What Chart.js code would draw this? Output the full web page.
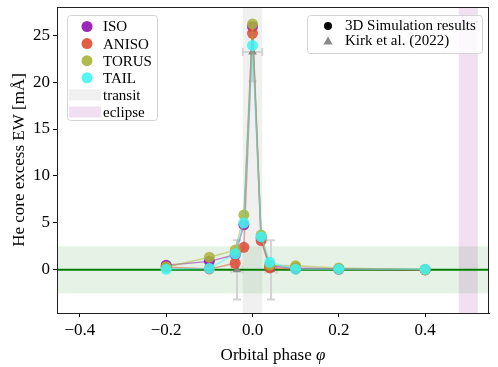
<!DOCTYPE html>
<html lang="en">
<head>
<meta charset="UTF-8" />
<title>He core excess EW vs orbital phase</title>
<script src="https://cdn.jsdelivr.net/npm/chart.js"></script>
<style>
  body { margin: 0; background: #fff; }
  canvas { display: block; }
</style>
</head>
<body>
<canvas id="ewChart" width="498" height="367"></canvas>
<script>
  // simulation results (orbital phase vs EW in mÅ)
  const phases = [-0.2, -0.1, -0.04, -0.02, 0, 0.02, 0.04, 0.1, 0.2, 0.4];
  const isoEW   = [0.5, 0.9, 1.6, 4.8, 25.9, 3.4, 0.4, 0.2, 0.1, 0.0];
  const anisoEW = [0.3, 0.1, 0.7, 2.4, 25.2, 3.1, 0.2, 0.1, 0.05, 0.0];
  const torusEW = [0.3, 1.35, 2.1, 5.85, 26.2, 3.7, 0.5, 0.43, 0.2, 0.0];
  const tailEW  = [0.05, 0.15, 1.7, 5.0, 23.9, 3.5, 0.8, 0.07, 0.07, 0.05];

  // Kirk et al. (2022) observations
  const kirkPhase = [-0.036, 0, 0.043];
  const kirkPhaseErr = [0.013, 0.0225, 0.013];
  const kirkEW = [0, 23.2, 0];
  const kirkEWErr = [3.15, 3.1, 3.15];

  // shaded ranges
  const transitRange = [-0.0225, 0.0225];
  const eclipseRange = [0.478, 0.522];
  const noiseBand = [-2.5, 2.5];

  const xTicks = [-0.4, -0.2, 0.0, 0.2, 0.4];
  const yTicks = [0, 5, 10, 15, 20, 25];

  const FONT = "'Liberation Serif', 'Times New Roman', serif";

  const series = [
    { label: 'ISO',   values: isoEW,   color: '145,17,179' },
    { label: 'ANISO', values: anisoEW, color: '223,74,50' },
    { label: 'TORUS', values: torusEW, color: '168,180,56' },
    { label: 'TAIL',  values: tailEW,  color: '64,245,245' }
  ];

  const datasets = series.map((s, i) => ({
    label: s.label,
    data: phases.map((p, j) => ({ x: p, y: s.values[j] })),
    showLine: true,
    borderColor: `rgba(${s.color},0.5)`,
    borderWidth: 1.5,
    backgroundColor: `rgba(${s.color},0.85)`,
    pointBorderWidth: 0,
    pointRadius: 5.5,
    order: series.length - i
  }));

  datasets.push({
    label: 'Kirk et al. (2022)',
    data: kirkPhase.map((p, j) => ({ x: p, y: kirkEW[j] })),
    pointStyle: 'triangle',
    pointRadius: 5,
    backgroundColor: '#888',
    borderWidth: 0,
    order: 10
  });

  // bands, reference line and error bars behind the points
  const backdrop = {
    id: 'backdrop',
    beforeDatasetsDraw(chart) {
      const { ctx, chartArea: a, scales: { x, y } } = chart;
      ctx.save();
      ctx.beginPath();
      ctx.rect(a.left, a.top, a.right - a.left, a.bottom - a.top);
      ctx.clip();

      ctx.fillStyle = 'rgba(0,128,0,0.1)';
      const yb1 = y.getPixelForValue(noiseBand[1]), yb0 = y.getPixelForValue(noiseBand[0]);
      ctx.fillRect(a.left, yb1, a.right - a.left, yb0 - yb1);

      ctx.fillStyle = 'rgba(128,128,128,0.12)';
      let x0 = x.getPixelForValue(transitRange[0]), x1 = x.getPixelForValue(transitRange[1]);
      ctx.fillRect(x0, a.top, x1 - x0, a.bottom - a.top);

      ctx.fillStyle = 'rgba(128,0,128,0.12)';
      x0 = x.getPixelForValue(eclipseRange[0]); x1 = x.getPixelForValue(eclipseRange[1]);
      ctx.fillRect(x0, a.top, x1 - x0, a.bottom - a.top);

      // Kirk error bars
      ctx.strokeStyle = '#d3d3d3';
      ctx.lineWidth = 2;
      kirkPhase.forEach((p, i) => {
        const px = x.getPixelForValue(p), py = y.getPixelForValue(kirkEW[i]);
        const top = y.getPixelForValue(kirkEW[i] + kirkEWErr[i]);
        const bot = y.getPixelForValue(kirkEW[i] - kirkEWErr[i]);
        const l = x.getPixelForValue(p - kirkPhaseErr[i]), r = x.getPixelForValue(p + kirkPhaseErr[i]);
        ctx.beginPath();
        ctx.moveTo(px, top); ctx.lineTo(px, bot);
        ctx.moveTo(px - 4, top); ctx.lineTo(px + 4, top);
        ctx.moveTo(px - 4, bot); ctx.lineTo(px + 4, bot);
        ctx.moveTo(l, py); ctx.lineTo(r, py);
        ctx.moveTo(l, py - 4); ctx.lineTo(l, py + 4);
        ctx.moveTo(r, py - 4); ctx.lineTo(r, py + 4);
        ctx.stroke();
      });

      ctx.strokeStyle = '#008000';
      ctx.lineWidth = 2;
      const y0 = y.getPixelForValue(0);
      ctx.beginPath();
      ctx.moveTo(a.left, y0); ctx.lineTo(a.right, y0);
      ctx.stroke();
      ctx.restore();
    },
    afterDraw(chart) {
      const { ctx, chartArea: a } = chart;
      ctx.save();
      // frame
      ctx.strokeStyle = '#222';
      ctx.lineWidth = 1;
      ctx.strokeRect(a.left + 0.5, a.top + 0.5, a.right - a.left - 1, a.bottom - a.top);

      // x title with italic phi
      ctx.fillStyle = '#000';
      ctx.textBaseline = 'alphabetic';
      const main = 'Orbital phase ';
      ctx.font = `italic 17px ${FONT}`;
      const phiW = ctx.measureText('φ').width;
      ctx.font = `17px ${FONT}`;
      const mainW = ctx.measureText(main).width;
      const cx = (a.left + a.right) / 2;
      const sx = cx - (mainW + phiW) / 2;
      ctx.fillText(main, sx, 360);
      ctx.font = `italic 17px ${FONT}`;
      ctx.fillText('φ', sx + mainW, 360);

      // left legend
      const box = (bx, by, bw, bh) => {
        ctx.beginPath();
        ctx.roundRect(bx + 0.5, by + 0.5, bw, bh, 3);
        ctx.fillStyle = 'rgba(255,255,255,0.8)';
        ctx.fill();
        ctx.strokeStyle = '#d4d4d4';
        ctx.lineWidth = 1;
        ctx.stroke();
      };
      box(a.left + 10, a.top + 8, 90, 105);
      ctx.font = `15px ${FONT}`;
      ctx.textBaseline = 'middle';
      const rowY = i => a.top + 19.5 + i * 17.1;
      series.forEach((s, i) => {
        ctx.fillStyle = `rgba(${s.color},0.9)`;
        ctx.beginPath();
        ctx.arc(a.left + 30, rowY(i), 5.5, 0, Math.PI * 2);
        ctx.fill();
        ctx.fillStyle = '#000';
        ctx.fillText(s.label, a.left + 46, rowY(i) + 1);
      });
      const patches = [['transit', 'rgba(128,128,128,0.12)'], ['eclipse', 'rgba(128,0,128,0.12)']];
      patches.forEach(([name, col], k) => {
        const ry = rowY(4 + k);
        ctx.fillStyle = col;
        ctx.fillRect(a.left + 12, ry - 5.5, 32, 11);
        ctx.fillStyle = '#000';
        ctx.fillText(name, a.left + 46, ry + 1);
      });

      // right legend
      box(a.left + 250, a.top + 8, 175, 38);
      const mx = a.left + 271;
      ctx.fillStyle = '#000';
      ctx.beginPath();
      ctx.arc(mx, a.top + 19, 4, 0, Math.PI * 2);
      ctx.fill();
      ctx.fillText('3D Simulation results', a.left + 288, a.top + 19.5);
      ctx.fillStyle = '#888';
      ctx.beginPath();
      const ty = a.top + 34;
      ctx.moveTo(mx, ty - 4.5); ctx.lineTo(mx + 4.5, ty + 3.5); ctx.lineTo(mx - 4.5, ty + 3.5);
      ctx.closePath();
      ctx.fill();
      ctx.fillStyle = '#000';
      ctx.fillText('Kirk et al. (2022)', a.left + 288, ty + 0.5);
      ctx.restore();
    }
  };

  const fmt = v => (v < 0 ? '\u2212' : '') + Math.abs(v).toFixed(1);

  new Chart(document.getElementById('ewChart'), {
    type: 'scatter',
    data: { datasets },
    options: {
      responsive: false,
      animation: false,
      layout: { padding: { top: 7, right: 9, left: 0, bottom: 0 } },
      plugins: { legend: { display: false }, tooltip: { enabled: false } },
      scales: {
        x: {
          type: 'linear',
          min: -0.453,
          max: 0.548,
          afterBuildTicks: s => { s.ticks = xTicks.map(v => ({ value: v })); },
          afterFit: s => { s.height = 54; s.paddingLeft = 0; s.paddingRight = 0; },
          ticks: { callback: fmt, color: '#000', padding: 3, maxRotation: 0, font: { family: FONT, size: 17 } },
          grid: { drawOnChartArea: false, tickLength: 4, color: '#000' },
          border: { color: '#222' }
        },
        y: {
          type: 'linear',
          min: -4.6,
          max: 28,
          afterBuildTicks: s => { s.ticks = yTicks.map(v => ({ value: v })); },
          afterFit: s => { s.width = 57; s.paddingTop = 0; s.paddingBottom = 0; },
          ticks: { color: '#000', padding: 3, font: { family: FONT, size: 17 } },
          grid: { drawOnChartArea: false, tickLength: 4, color: '#000' },
          border: { color: '#222' },
          title: {
            display: true,
            text: 'He core excess EW [mÅ]',
            color: '#000',
            padding: { top: 9, bottom: 0 },
            font: { family: FONT, size: 17 }
          }
        }
      }
    },
    plugins: [backdrop]
  });
</script>
</body>
</html>
